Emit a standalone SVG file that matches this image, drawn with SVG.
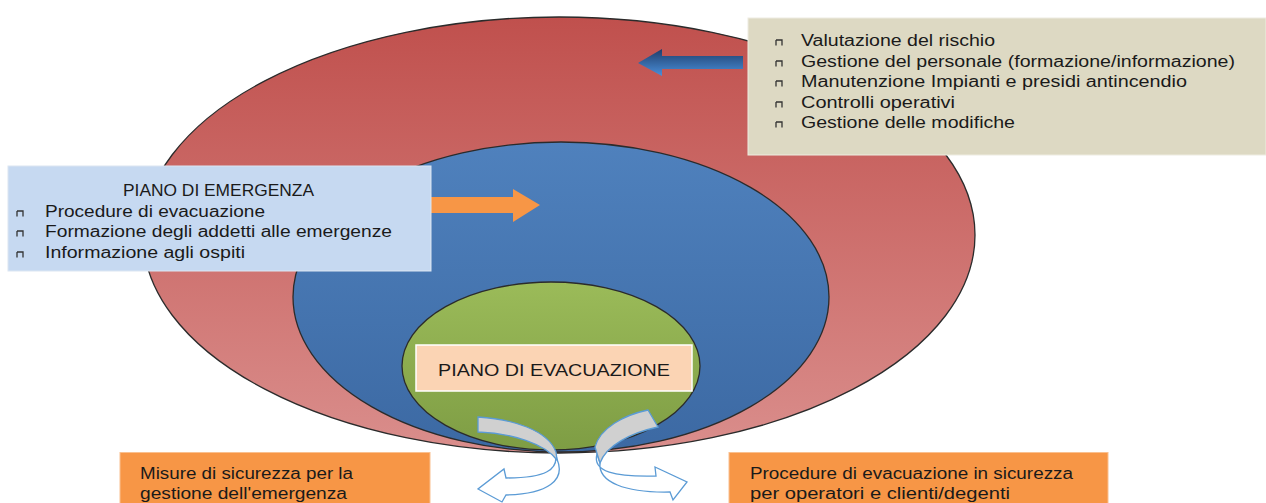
<svg xmlns="http://www.w3.org/2000/svg" width="1266" height="503" viewBox="0 0 1266 503">
<defs>
<linearGradient id="gRed" x1="0" y1="0" x2="0" y2="1"><stop offset="0" stop-color="#C0504D"/><stop offset="1" stop-color="#DA8E8C"/></linearGradient>
<linearGradient id="gBlue" x1="0" y1="0" x2="0" y2="1"><stop offset="0" stop-color="#4F81BD"/><stop offset="1" stop-color="#3C69A3"/></linearGradient>
<linearGradient id="gGreen" x1="0" y1="0" x2="0" y2="1"><stop offset="0" stop-color="#9BBB59"/><stop offset="1" stop-color="#7E9D44"/></linearGradient>
<linearGradient id="gArrow" x1="0" y1="0" x2="0" y2="1"><stop offset="0" stop-color="#1F3D6A"/><stop offset="1" stop-color="#4A8FDA"/></linearGradient>
<path id="bul" d="M0,0 h6 v5.5 M0,0 v5.5" fill="none" stroke="#333" stroke-width="1.3"/>
</defs>
<style>
.t{font-family:"Liberation Sans",Arial,sans-serif;fill:#1a1a1a;}
.s16{font-size:16px;}
.s17{font-size:17px;}
.ell{stroke:#2b2b2b;stroke-width:1.3;}
</style>
<rect width="1266" height="503" fill="#fff"/>

<g id="ellipse-red"><ellipse class="ell" cx="559" cy="235" rx="416" ry="218" fill="url(#gRed)"/></g>
<g id="ellipse-blue"><ellipse class="ell" cx="561" cy="297" rx="268" ry="155" fill="url(#gBlue)"/></g>
<g id="ellipse-green"><ellipse class="ell" cx="551" cy="366" rx="149" ry="84" fill="url(#gGreen)"/></g>

<g id="connectors">
<path d="M743,56 L662,56 L662,49 L638,63 L662,76 L662,69 L743,69 Z" fill="url(#gArrow)"/>
<path d="M431,197 L513,197 L513,189 L540,205 L513,222 L513,213 L431,213 Z" fill="#F79646"/>
<g fill="#fff" stroke="#5B9BD5" stroke-width="1.3">
<path d="M555,452 C560,470 545,478 506,478 L504,469 L478,489 L502,502 L506,495 C548,494 566,480 557,459 Z"/>
<path d="M478,417 C512,419 548,430 556,452 L557,460 C545,444 512,433 478,432 Z" fill="#D0D0D0"/>
<path d="M597,454 C592,472 615,477 656,476 L655,467 L687,482 L673,500 L670,492 C625,493 598,482 600,463 Z"/>
<path d="M648,410 C624,415 600,428 595,447 L600,463 C606,446 630,433 658,427 Z" fill="#D0D0D0"/>
</g>
</g>

<g id="box-top-right">
<rect x="748" y="18" width="518" height="137" fill="#DDD9C3" stroke="#EEECE1" stroke-width="1"/>
<use href="#bul" x="776" y="40"/>
<use href="#bul" x="776" y="61"/>
<use href="#bul" x="776" y="81"/>
<use href="#bul" x="776" y="102"/>
<use href="#bul" x="776" y="122"/>
<text class="t s16" x="801" y="46" textLength="194" lengthAdjust="spacingAndGlyphs">Valutazione del rischio</text>
<text class="t s16" x="801" y="66.5" textLength="434" lengthAdjust="spacingAndGlyphs">Gestione del personale (formazione/informazione)</text>
<text class="t s16" x="801" y="87" textLength="386" lengthAdjust="spacingAndGlyphs">Manutenzione Impianti e presidi antincendio</text>
<text class="t s16" x="801" y="107.5" textLength="154" lengthAdjust="spacingAndGlyphs">Controlli operativi</text>
<text class="t s16" x="801" y="128" textLength="214" lengthAdjust="spacingAndGlyphs">Gestione delle modifiche</text>
</g>

<g id="box-piano-emergenza">
<rect x="8" y="166" width="423" height="105" fill="#C6D9F1" stroke="#DCE6F2" stroke-width="1"/>
<text class="t s16" x="123" y="196" textLength="191" lengthAdjust="spacingAndGlyphs">PIANO DI EMERGENZA</text>
<use href="#bul" x="17" y="211"/>
<use href="#bul" x="17" y="231"/>
<use href="#bul" x="17" y="252"/>
<text class="t s16" x="45" y="216.5" textLength="220" lengthAdjust="spacingAndGlyphs">Procedure di evacuazione</text>
<text class="t s16" x="45" y="237" textLength="347" lengthAdjust="spacingAndGlyphs">Formazione degli addetti alle emergenze</text>
<text class="t s16" x="45" y="257.5" textLength="200" lengthAdjust="spacingAndGlyphs">Informazione agli ospiti</text>
</g>

<g id="box-piano-evacuazione">
<rect x="416" y="345" width="276" height="46" fill="#FBD4B4" stroke="#fff" stroke-width="1.5"/>
<text class="t s17" x="438" y="376" textLength="232" lengthAdjust="spacingAndGlyphs">PIANO DI EVACUAZIONE</text>
</g>

<g id="box-misure">
<rect x="120" y="452.5" width="310" height="52" fill="#F79646" stroke="#FAC08F" stroke-width="1"/>
<text class="t s16" x="140" y="479" textLength="213" lengthAdjust="spacingAndGlyphs">Misure di sicurezza per la</text>
<text class="t s16" x="140" y="498.5" textLength="207" lengthAdjust="spacingAndGlyphs">gestione dell'emergenza</text>
</g>

<g id="box-procedure">
<rect x="729" y="452.5" width="379" height="52" fill="#F79646" stroke="#FAC08F" stroke-width="1"/>
<text class="t s16" x="750" y="479" textLength="323" lengthAdjust="spacingAndGlyphs">Procedure di evacuazione in sicurezza</text>
<text class="t s16" x="750" y="498.5" textLength="260" lengthAdjust="spacingAndGlyphs">per operatori e clienti/degenti</text>
</g>
</svg>
